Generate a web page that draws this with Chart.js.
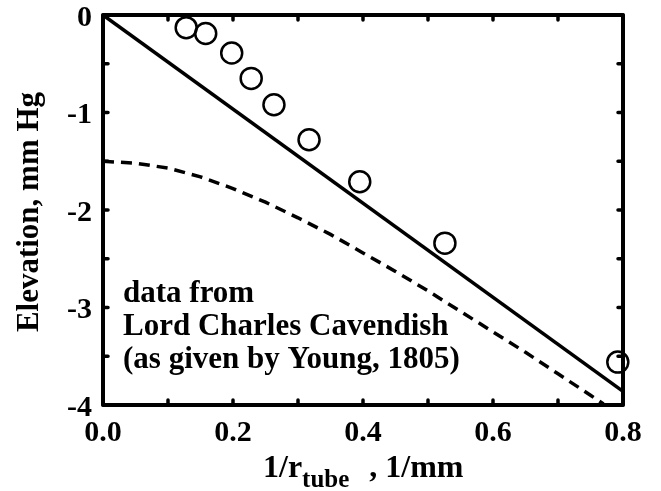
<!DOCTYPE html>
<html>
<head>
<meta charset="utf-8">
<script src="https://cdn.jsdelivr.net/npm/chart.js@4"></script>
<style>
  body { margin: 0; background: #fff; }
  canvas { display: block; }
</style>
</head>
<body>
<canvas id="elevation" width="661" height="491"></canvas>
<script>
// measured points (Cavendish, via Young 1805)
const dataX = [0.128, 0.158, 0.198, 0.228, 0.263, 0.317, 0.395, 0.526, 0.792];
const dataY = [-0.13, -0.19, -0.39, -0.65, -0.92, -1.28, -1.71, -2.34, -3.56];

// straight solid line
const lineX = [0, 0.8];
const lineY = [0, -3.86];

// dashed curve
const curveX = [0, 0.05, 0.1, 0.15, 0.2, 0.25, 0.3, 0.35, 0.4, 0.45, 0.5, 0.55, 0.6, 0.65, 0.7, 0.75, 0.77];
const curveY = [-1.5, -1.52, -1.57, -1.66, -1.78, -1.92, -2.08, -2.25, -2.44, -2.63, -2.83, -3.04, -3.25, -3.46, -3.68, -3.9, -3.99];

const noteLines = ["data from", "Lord Charles Cavendish", "(as given by Young, 1805)"];
const yTitle = "Elevation, mm Hg";
const xTitleMain = "1/r";
const xTitleSub = "tube";
const xTitleEnd = ", 1/mm";

const serif = "'Liberation Serif', 'Times New Roman', serif";

function pts(xs, ys) {
  return xs.map((x, i) => ({ x: x, y: ys[i] }));
}

const framePlugin = {
  id: 'frame',
  afterDatasetsDraw(chart) {
    const ctx = chart.ctx;
    const a = chart.chartArea;
    const sx = chart.scales.x, sy = chart.scales.y;
    ctx.save();
    ctx.strokeStyle = '#000';
    ctx.lineWidth = 4;
    ctx.lineJoin = 'round';
    ctx.strokeRect(a.left, a.top, a.right - a.left, a.bottom - a.top);
    // inward tick marks on all four sides
    ctx.lineWidth = 3.5;
    ctx.lineCap = 'round';
    ctx.beginPath();
    sx.ticks.forEach(t => {
      const px = sx.getPixelForValue(t.value);
      ctx.moveTo(px, a.bottom); ctx.lineTo(px, a.bottom - 5);
      ctx.moveTo(px, a.top); ctx.lineTo(px, a.top + 5);
    });
    sy.ticks.forEach(t => {
      const py = sy.getPixelForValue(t.value);
      ctx.moveTo(a.left, py); ctx.lineTo(a.left + 5, py);
      ctx.moveTo(a.right, py); ctx.lineTo(a.right - 5, py);
    });
    ctx.stroke();
    ctx.restore();
  },
  afterDraw(chart) {
    const ctx = chart.ctx;
    const a = chart.chartArea;
    ctx.save();
    ctx.fillStyle = '#000';
    ctx.font = 'bold 31px ' + serif;
    ctx.textBaseline = 'alphabetic';
    ctx.textAlign = 'left';
    noteLines.forEach((s, i) => {
      ctx.fillText(s, a.left + 20, 302 + i * 33);
    });

    // x title with subscript
    ctx.font = 'bold 32px ' + serif;
    const w1 = ctx.measureText(xTitleMain).width;
    ctx.font = 'bold 25px ' + serif;
    const w2 = ctx.measureText(xTitleSub).width;
    const gap = 20;
    let x0 = 263;
    ctx.font = 'bold 32px ' + serif;
    ctx.fillText(xTitleMain, x0, 477);
    ctx.font = 'bold 25px ' + serif;
    ctx.fillText(xTitleSub, x0 + w1, 487);
    ctx.font = 'bold 32px ' + serif;
    ctx.fillText(xTitleEnd, x0 + w1 + w2 + gap, 477);

    // y title
    ctx.font = 'bold 31px ' + serif;
    ctx.translate(38, 212);
    ctx.rotate(-Math.PI / 2);
    ctx.textAlign = 'center';
    ctx.fillText(yTitle, 0, 0);
    ctx.restore();
  }
};

new Chart(document.getElementById('elevation'), {
  type: 'scatter',
  data: {
    datasets: [
      {
        data: pts(curveX, curveY),
        showLine: true,
        borderColor: '#000',
        borderWidth: 3.5,
        borderDash: [11, 7],
        pointRadius: 0,
        fill: false
      },
      {
        data: pts(lineX, lineY),
        showLine: true,
        borderColor: '#000',
        borderWidth: 3.5,
        pointRadius: 0,
        fill: false
      },
      {
        data: pts(dataX, dataY),
        showLine: false,
        pointStyle: 'circle',
        pointRadius: 10.5,
        pointBorderWidth: 2.5,
        pointBorderColor: '#000',
        pointBackgroundColor: 'rgba(0,0,0,0)',
        clip: false
      }
    ]
  },
  options: {
    responsive: false,
    animation: false,
    devicePixelRatio: 1,
    layout: { padding: { left: 0, top: 15, right: 38, bottom: 0 } },
    plugins: {
      legend: { display: false },
      tooltip: { enabled: false }
    },
    scales: {
      x: {
        type: 'linear',
        min: 0,
        max: 0.8,
        grid: { display: false, drawTicks: false },
        border: { display: false },
        ticks: {
          stepSize: 0.1,
          autoSkip: false,
          maxRotation: 0,
          padding: 13,
          color: '#000',
          font: { family: serif, size: 30, weight: 'bold', lineHeight: 1 },
          callback: (v) => Math.round(v * 10) % 2 === 0 ? v.toFixed(1) : ''
        },
        afterFit: (s) => { s.height = 86; s.paddingLeft = 0; s.paddingRight = 0; }
      },
      y: {
        type: 'linear',
        min: -4,
        max: 0,
        grid: { display: false, drawTicks: false },
        border: { display: false },
        ticks: {
          stepSize: 0.5,
          autoSkip: false,
          padding: 11,
          labelOffset: 3,
          color: '#000',
          font: { family: serif, size: 30, weight: 'bold', lineHeight: 1 },
          callback: (v) => Number.isInteger(v) ? String(v) : ''
        },
        afterFit: (s) => { s.width = 103; s.paddingTop = 0; s.paddingBottom = 0; }
      }
    }
  },
  plugins: [framePlugin]
});
</script>
</body>
</html>
